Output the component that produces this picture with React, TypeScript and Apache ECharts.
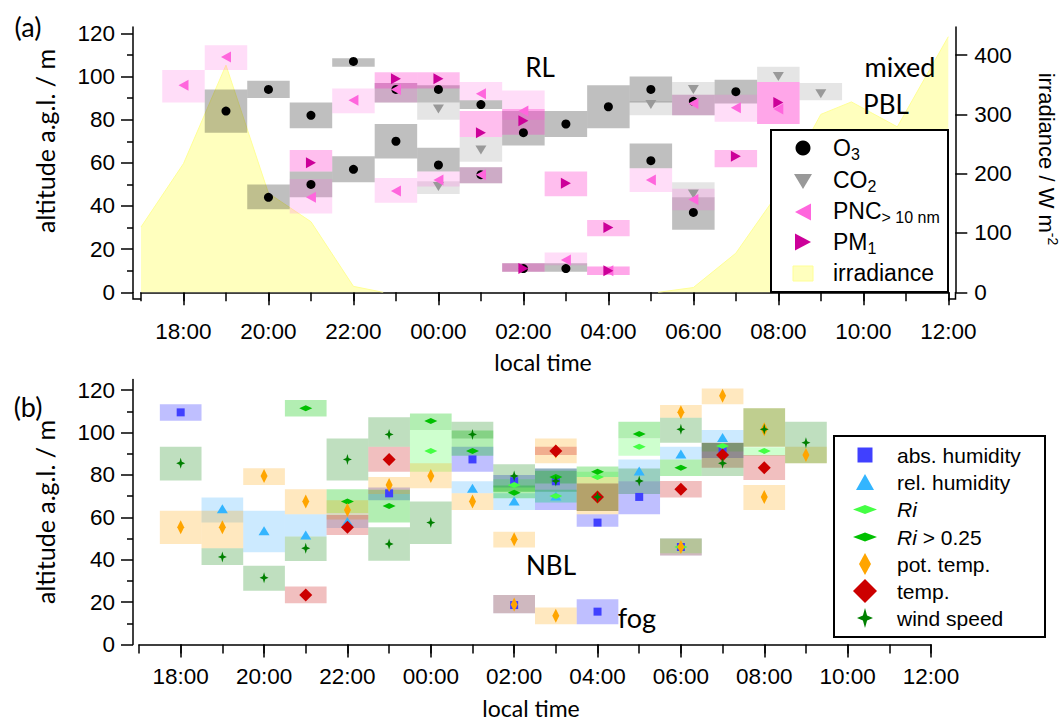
import { useEffect, useRef } from "react";
import * as echarts from "echarts";

// ---------- axis tick values ----------
const hourMajor = [18, 20, 22, 24, 26, 28, 30, 32, 34, 36];
const altMajor = [0, 20, 40, 60, 80, 100, 120];
const altMinor = [10, 30, 50, 70, 90, 110];
const irrMajor = [0, 100, 200, 300, 400];

// ---------- panel (a): [hour, altitude, low, high] (hours > 24 = next day) ----------
const o3 = [
  [19, 84, 74, 94], [20, 94, 90, 98], [20, 44, 38.5, 50], [21, 82, 76, 88], [21, 50, 44, 56],
  [22, 107, 104.5, 108.5], [22, 57, 51, 63], [23, 94, 88, 97], [23, 70, 62, 78],
  [24, 94, 88, 96], [24, 59, 56, 67], [25, 87, 85, 89], [25, 54.5, 50.5, 58],
  [26, 74, 68, 84], [26, 11, 9.5, 13.5], [27, 78, 72, 84], [27, 11, 9.5, 13.5],
  [28, 86, 76, 96], [29, 94, 88, 100], [29, 61, 57.5, 69], [30, 88.5, 82, 91.5],
  [30, 37, 29, 44], [31, 93, 87.5, 98.5],
];
const co2 = [
  [24, 85, 80, 88], [24, 49, 45.5, 51.5], [25, 66, 60.5, 72], [29, 87, 82, 88.5],
  [30, 94, 91.5, 97.5], [30, 45.5, 44, 51], [32, 100, 97.5, 104.5], [33, 92, 89, 97],
];
const pnc = [
  [18, 96, 88, 103], [19, 109, 103, 114.5], [21, 44, 36.5, 52.5], [22, 89, 83, 94.5],
  [23, 94, 88, 97], [23, 47, 41.5, 53], [24, 52, 49, 56], [25, 92, 89, 97.5],
  [25, 54.5, 50.5, 58], [26, 84, 80, 93.5], [27, 15, 12.5, 18.5], [28, 10, 8, 12],
  [29, 52, 46.5, 57.5], [30, 87.5, 82, 91.5], [30, 43, 38, 48], [31, 85.5, 79, 91.5],
  [32, 85, 78, 97.5],
];
const pm1 = [
  [21, 60, 56, 66], [23, 99, 94.5, 102], [24, 99, 94.5, 102], [25, 74, 72, 84],
  [26, 79.5, 73, 85], [26, 11, 9.5, 13.5], [27, 50.5, 44.5, 56], [28, 30, 26, 33.5],
  [28, 10, 8, 12], [31, 63, 58, 66], [32, 88, 78, 97.5],
];
// irradiance [hour, W m-2]
const irrEvening = [[17, 110], [18, 217], [19, 383], [20, 167], [21, 119], [22, 10], [22.7, 0]];
const irrMorning = [[29.17, 0], [30, 8], [31, 66], [32, 168], [33, 300], [33.72, 321], [34.8, 279], [36, 431]];

// ---------- panel (b): [hour, altitude, low, high] ----------
const absHum = [
  [18, 109.5, 105.5, 113.3], [23, 71.3, 68, 74], [25, 87.3, 81.5, 93.3], [26, 77, 74, 80],
  [26, 18.6, 14.7, 23.3], [27, 77, 63.4, 83], [28, 57.5, 55.5, 61.4], [28, 15.5, 9.5, 21.3],
  [29, 69.6, 61.4, 77], [30, 46, 42, 50], [31, 91.7, 88, 95],
];
const relHum = [
  [19, 64, 57.5, 69.3], [20, 53.7, 43.5, 63.1], [21, 51.6, 51, 61.4], [22, 58, 55, 62],
  [25, 73.7, 71.3, 77], [26, 67.7, 63.4, 71.3], [27, 70, 67, 73], [29, 81.8, 77, 87.3],
  [30, 89.8, 87.3, 93.3], [31, 97.7, 95.2, 101.2],
];
const ri = [
  [24, 91.3, 81.5, 101.2], [26, 75.2, 72, 78], [27, 70, 67, 73], [28, 79, 76, 81.5],
  [29, 93.3, 89, 97], [30, 46, 43, 50], [31, 93.6, 91, 95], [32, 91.3, 89, 93],
];
const riCrit = [
  [21, 111.4, 107.5, 115.3], [22, 67.4, 62, 73.2], [23, 65.3, 57.5, 73], [24, 105.4, 101.2, 109],
  [25, 91.3, 89, 101], [26, 71.6, 69, 75], [27, 79, 76, 82], [28, 81.5, 79, 84],
  [29, 99.3, 97.2, 105.1], [30, 83.4, 79.5, 87.3],
];
const potTemp = [
  [18, 55.3, 47.4, 63.1], [19, 55.3, 45.4, 63.1], [20, 79.5, 75.2, 83.1], [21, 67.4, 61.4, 73.2],
  [22, 63.4, 59, 68], [23, 75.2, 71, 79], [24, 79.5, 73.7, 85.5], [25, 67.4, 63.4, 71.3],
  [26, 49.6, 45.7, 53.2], [26, 18.9, 14.7, 23.3], [27, 91, 85.5, 97.2], [27, 13.6, 9.5, 17.4],
  [28, 69.6, 61.4, 79], [30, 109.5, 107, 113], [30, 46, 42, 50], [31, 117.3, 113.3, 120.8],
  [32, 101.5, 93.3, 111.4], [32, 69.6, 63.4, 75.2], [33, 89.4, 85.5, 93.3],
];
const temp = [
  [21, 23.3, 19.4, 27.3], [22, 55.3, 51.6, 61.1], [23, 87.3, 81.5, 93.3], [27, 91.3, 89.4, 93.3],
  [28, 69.6, 63, 76], [30, 73.2, 69.3, 77.1], [31, 89.4, 83.4, 95.2], [32, 83.4, 77.6, 89.4],
];
const wind = [
  [18, 85.5, 77.3, 93.3], [19, 41.3, 37.5, 45.4], [20, 31.5, 25.4, 37.2], [21, 45.4, 39.4, 50.9],
  [22, 87.3, 77.3, 97.2], [23, 99.1, 93.3, 107.2], [23, 47.4, 39.5, 55.3], [24, 57.5, 47.4, 67.4],
  [25, 99.1, 97.2, 105.1], [26, 79.5, 72, 85], [27, 77.1, 72, 83], [28, 69.6, 63, 76],
  [29, 77.1, 71, 83], [30, 101.5, 95.2, 107], [31, 85.5, 79.5, 95.2], [32, 101.5, 93.3, 111.4],
  [33, 95.2, 85.5, 105.1],
];

// ---------- styling ----------
const ARIAL = "Liberation Sans";
const CAL = "Lato";
const LINE = { color: "#000", width: 1.5 };
const TRI_LEFT = "path://M0,5L10,0L10,10Z";
const TRI_RIGHT = "path://M10,5L0,0L0,10Z";
const TRI_DOWN = "path://M0,0L10,0L5,10Z";
const STAR = "path://M0,-10L2.6,-2.6L10,0L2.6,2.6L0,10L-2.6,2.6L-10,0L-2.6,-2.6Z";

const fmtHour = (v: number) => {
  const h = Math.round(v) % 24;
  return (h < 10 ? "0" : "") + h + ":00";
};

function rectSeries(data: number[][], color: string, xi: number, yi: number) {
  return {
    type: "custom",
    xAxisIndex: xi,
    yAxisIndex: yi,
    silent: true,
    z: 2,
    data,
    encode: { x: 0, y: 1 },
    renderItem: (_p: any, api: any) => {
      const h = api.value(0);
      const lo = api.value(2);
      const hi = api.value(3);
      const a = api.coord([h - 0.5, hi]);
      const b = api.coord([h + 0.5, lo]);
      return {
        type: "rect",
        shape: { x: a[0], y: a[1], width: b[0] - a[0], height: b[1] - a[1] },
        style: { fill: color },
      };
    },
  };
}

function markSeries(data: number[][], symbol: string, size: any, color: string, xi: number, yi: number) {
  return {
    type: "scatter",
    xAxisIndex: xi,
    yAxisIndex: yi,
    silent: true,
    z: 3,
    data: data.map((d) => [d[0], d[1]]),
    symbol,
    symbolSize: size,
    itemStyle: { color, opacity: 1 },
  };
}

function xAxes(grid: number, offset: number, margin: number) {
  return [
    {
      gridIndex: grid, type: "value", position: "bottom", min: 17, max: 36, interval: 1, offset,
      axisLine: { show: true, lineStyle: LINE },
      axisTick: { show: true, length: 9, lineStyle: LINE },
      axisLabel: { show: false },
      splitLine: { show: false },
    },
    {
      gridIndex: grid, type: "value", position: "bottom", min: 17, max: 36, offset,
      axisLine: { show: false },
      axisTick: { show: true, length: 13, customValues: hourMajor, lineStyle: LINE },
      axisLabel: {
        show: true, customValues: hourMajor, formatter: fmtHour, margin,
        fontFamily: ARIAL, fontSize: 22.5, color: "#000",
      },
      splitLine: { show: false },
    },
  ];
}

function yAxesLeft(grid: number, max: number, offset: number) {
  return [
    {
      gridIndex: grid, type: "value", position: "left", min: 0, max, offset,
      axisLine: { show: true, lineStyle: LINE },
      axisTick: { show: true, length: 12, customValues: altMajor, lineStyle: LINE },
      axisLabel: {
        show: true, customValues: altMajor, margin: 18,
        fontFamily: ARIAL, fontSize: 22.5, color: "#000",
      },
      splitLine: { show: false },
    },
    {
      gridIndex: grid, type: "value", position: "left", min: 0, max, offset,
      axisLine: { show: false },
      axisTick: { show: true, length: 6, customValues: altMinor, lineStyle: LINE },
      axisLabel: { show: false },
      splitLine: { show: false },
    },
  ];
}

function txt(x: number, y: number, text: string, size: number, family = CAL, extra: any = {}) {
  return {
    type: "text", x, y, silent: true, z: 20, ...extra,
    style: {
      text, fill: "#000", fontSize: size, fontFamily: family,
      align: extra.align || "center", verticalAlign: "middle",
      textAlign: extra.align || "center", textVerticalAlign: "middle",
      ...(extra.style || {}),
    },
  };
}

function subText(x: number, y: number, main: string, sub: string, size: number, subSize: number) {
  return {
    type: "text", x, y, silent: true, z: 30,
    style: {
      text: "{m|" + main + "}" + (sub ? "{s|" + sub + "}" : ""),
      align: "left", verticalAlign: "middle", textAlign: "left", textVerticalAlign: "middle",
      rich: {
        m: { fontSize: size, fontFamily: ARIAL, fill: "#000", lineHeight: 28, verticalAlign: "middle" },
        s: { fontSize: subSize, fontFamily: ARIAL, fill: "#000", lineHeight: 11, verticalAlign: "bottom" },
      },
    },
  };
}

function poly(points: number[][], fill: string) {
  return { type: "polygon", silent: true, z: 30, shape: { points }, style: { fill } };
}

export default function App() {
  const ref = useRef<HTMLDivElement>(null);

  useEffect(() => {
    const chart = echarts.init(ref.current!, undefined, { renderer: "svg" });

    const ax = 0; // panel a x axis index
    const bx = 2; // panel b x axis index

    const series: any[] = [
      {
        type: "line", xAxisIndex: ax, yAxisIndex: 2, data: irrEvening, symbol: "none", silent: true, z: 1,
        lineStyle: { color: "#ffff96", width: 1 }, areaStyle: { color: "#ffffbe", opacity: 1 },
      },
      {
        type: "line", xAxisIndex: ax, yAxisIndex: 2, data: irrMorning, symbol: "none", silent: true, z: 1,
        lineStyle: { color: "#ffff96", width: 1 }, areaStyle: { color: "#ffffbe", opacity: 1 },
      },
      rectSeries(o3, "rgba(0,0,0,0.25)", ax, 0),
      rectSeries(co2, "rgba(0,0,0,0.1)", ax, 0),
      rectSeries(pnc, "rgba(255,102,221,0.22)", ax, 0),
      rectSeries(pm1, "rgba(255,40,200,0.3)", ax, 0),
      markSeries(o3, "circle", 9, "#000", ax, 0),
      markSeries(co2, TRI_DOWN, [11, 9], "#999999", ax, 0),
      markSeries(pnc, TRI_LEFT, [10, 11], "#ff66dd", ax, 0),
      markSeries(pm1, TRI_RIGHT, [10, 11], "#cc0099", ax, 0),

      rectSeries(absHum, "rgba(0,0,255,0.25)", bx, 3),
      rectSeries(relHum, "rgba(0,150,255,0.2)", bx, 3),
      rectSeries(ri, "rgba(60,255,60,0.25)", bx, 3),
      rectSeries(riCrit, "rgba(0,200,0,0.3)", bx, 3),
      rectSeries(potTemp, "rgba(255,165,0,0.25)", bx, 3),
      rectSeries(temp, "rgba(200,0,0,0.25)", bx, 3),
      rectSeries(wind, "rgba(0,128,0,0.25)", bx, 3),
      markSeries(absHum, "rect", 8, "#4040ff", bx, 3),
      markSeries(relHum, "triangle", [11, 9], "#33b5ff", bx, 3),
      markSeries(ri, "diamond", [13, 6], "#44ff44", bx, 3),
      markSeries(riCrit, "diamond", [13, 6], "#00c000", bx, 3),
      markSeries(potTemp, "diamond", [7, 14], "#ffa500", bx, 3),
      markSeries(temp, "diamond", [13, 13], "#cc0000", bx, 3),
      markSeries(wind, STAR, [9, 11], "#008000", bx, 3),
    ];

    const star = (cx: number, cy: number, rx: number, ry: number) => {
      const k = 0.26;
      return [
        [cx, cy - ry], [cx + rx * k, cy - ry * k], [cx + rx, cy], [cx + rx * k, cy + ry * k],
        [cx, cy + ry], [cx - rx * k, cy + ry * k], [cx - rx, cy], [cx - rx * k, cy - ry * k],
      ];
    };

    const graphic: any[] = [
      // axis corner connectors of panel (a)
      { type: "polyline", silent: true, z: 10, shape: { points: [[133, 292], [133, 299], [141, 299]] }, style: { stroke: "#000", lineWidth: 1.5, fill: null } },
      { type: "polyline", silent: true, z: 10, shape: { points: [[948, 299], [955.5, 299], [955.5, 292]] }, style: { stroke: "#000", lineWidth: 1.5, fill: null } },

      txt(28, 26, "(a)", 27),
      txt(28, 406, "(b)", 27),
      txt(540, 67, "RL", 26),
      txt(900, 66, "mixed", 27),
      txt(886, 104, "PBL", 26),
      txt(551, 565, "NBL", 26),
      txt(637, 617, "fog", 27),
      txt(543, 362, "local time", 23),
      txt(531, 708, "local time", 23),
      txt(45, 141, "altitude a.g.l. / m", 25, CAL, { rotation: Math.PI / 2 }),
      txt(45, 512, "altitude a.g.l. / m", 25, CAL, { rotation: Math.PI / 2 }),
      {
        type: "text", x: 1046, y: 159, rotation: -Math.PI / 2, silent: true, z: 20,
        style: {
          text: "{m|irradiance / W m}{s|-2}", align: "center", verticalAlign: "middle",
          textAlign: "center", textVerticalAlign: "middle",
          rich: {
            m: { fontSize: 22, fontFamily: ARIAL, fill: "#000", lineHeight: 28, verticalAlign: "middle" },
            s: { fontSize: 14, fontFamily: ARIAL, fill: "#000", lineHeight: 12, verticalAlign: "top" },
          },
        },
      },

      // legend (a)
      { type: "rect", silent: true, z: 25, shape: { x: 771, y: 130, width: 177, height: 162 }, style: { fill: "#fff", stroke: "#000", lineWidth: 2 } },
      { type: "circle", silent: true, z: 30, shape: { cx: 803, cy: 148, r: 7.5 }, style: { fill: "#000" } },
      poly([[794, 174], [812, 174], [803, 189]], "#999999"),
      poly([[795, 212], [811, 203.5], [811, 220.5]], "#ff66dd"),
      poly([[811, 242], [795, 233.5], [795, 250.5]], "#cc0099"),
      { type: "rect", silent: true, z: 30, shape: { x: 793, y: 266, width: 20, height: 15 }, style: { fill: "#ffffbe", stroke: "#ffff96", lineWidth: 1 } },
      subText(833, 148, "O", "3", 23, 16),
      subText(833, 180, "CO", "2", 23, 16),
      subText(833, 211, "PNC", "> 10 nm", 23, 16),
      subText(833, 242, "PM", "1", 23, 16),
      subText(833, 273, "irradiance", "", 23, 16),

      // legend (b)
      { type: "rect", silent: true, z: 25, shape: { x: 834, y: 436, width: 211, height: 201 }, style: { fill: "#fff", stroke: "#000", lineWidth: 2 } },
      { type: "rect", silent: true, z: 30, shape: { x: 857.5, y: 447.5, width: 15, height: 15 }, style: { fill: "#4040ff" } },
      poly([[865, 474], [874, 490], [856, 490]], "#33b5ff"),
      poly([[853, 509.5], [865, 505], [877, 509.5], [865, 514]], "#44ff44"),
      poly([[853, 537], [865, 532.5], [877, 537], [865, 541.5]], "#00c000"),
      poly([[865, 553], [871, 564], [865, 575], [859, 564]], "#ffa500"),
      poly([[865, 579], [877, 591], [865, 603], [853, 591]], "#cc0000"),
      poly(star(865, 618, 8, 10), "#008000"),
      txt(897, 455, "abs. humidity", 21, ARIAL, { align: "left", z: 30 }),
      txt(897, 482, "rel. humidity", 21, ARIAL, { align: "left", z: 30 }),
      txt(897, 509.5, "Ri", 21, ARIAL, { align: "left", z: 30, style: { fontStyle: "italic" } }),
      {
        type: "text", x: 897, y: 537, silent: true, z: 30,
        style: {
          text: "{i|Ri}{m| > 0.25}", align: "left", verticalAlign: "middle",
          textAlign: "left", textVerticalAlign: "middle",
          rich: {
            i: { fontSize: 21, fontFamily: ARIAL, fontStyle: "italic", fill: "#000" },
            m: { fontSize: 21, fontFamily: ARIAL, fill: "#000" },
          },
        },
      },
      txt(897, 564, "pot. temp.", 21, ARIAL, { align: "left", z: 30 }),
      txt(897, 591, "temp.", 21, ARIAL, { align: "left", z: 30 }),
      txt(897, 618, "wind speed", 21, ARIAL, { align: "left", z: 30 }),
    ];

    chart.setOption({
      animation: false,
      backgroundColor: "#fff",
      grid: [
        { left: 141, top: 26.9, width: 807.3, height: 265.4 },
        { left: 139, top: 379.5, width: 792, height: 265 },
      ],
      xAxis: [...xAxes(0, 7, 21), ...xAxes(1, 0, 20)],
      yAxis: [
        ...yAxesLeft(0, 123, 8),
        {
          gridIndex: 0, type: "value", position: "right", min: 0, max: 447.5, offset: 7,
          axisLine: { show: true, lineStyle: LINE },
          axisTick: { show: true, length: 12, customValues: irrMajor, lineStyle: LINE },
          axisLabel: { show: true, customValues: irrMajor, margin: 19, fontFamily: ARIAL, fontSize: 22.5, color: "#000" },
          splitLine: { show: false },
        },
        ...yAxesLeft(1, 125, 6),
      ],
      series,
      graphic,
    });

    return () => chart.dispose();
  }, []);

  return (
    <div
      ref={ref}
      style={{ position: "absolute", left: 0, top: 0, width: 1064, height: 724, background: "#fff" }}
    />
  );
}
